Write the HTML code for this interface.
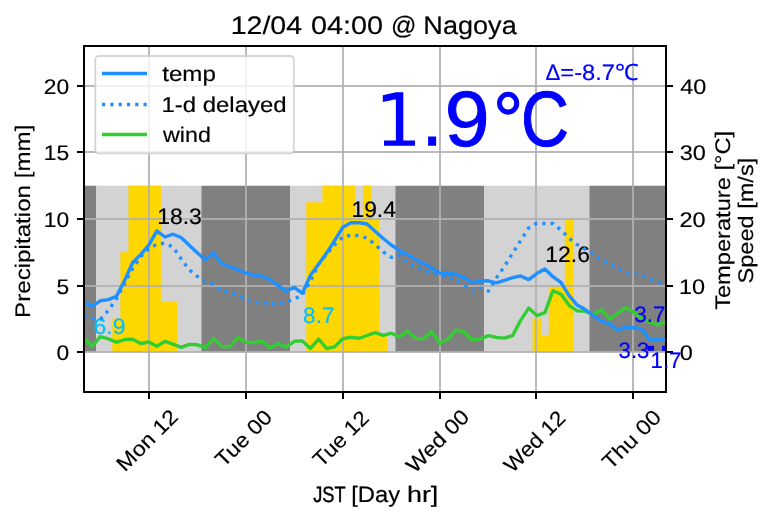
<!DOCTYPE html>
<html><head><meta charset="utf-8"><style>
html,body{margin:0;padding:0;background:#fff;width:773px;height:520px;overflow:hidden}
svg{display:block;font-family:"Liberation Sans",sans-serif;text-rendering:geometricPrecision;will-change:transform}

</style></head><body>
<svg width="773" height="520" viewBox="0 0 773 520">
<defs><clipPath id="ax"><rect x="84" y="46" width="582" height="346"/></clipPath></defs>
<rect x="0" y="0" width="773" height="520" fill="#fff"/>
<g clip-path="url(#ax)">
<rect x="84.15" y="185.75" width="12.12" height="166.25" fill="#808080"/>
<rect x="96.27" y="185.75" width="105.08" height="166.25" fill="#d3d3d3"/>
<rect x="201.36" y="185.75" width="88.92" height="166.25" fill="#808080"/>
<rect x="290.27" y="185.75" width="105.08" height="166.25" fill="#d3d3d3"/>
<rect x="395.36" y="185.75" width="88.92" height="166.25" fill="#808080"/>
<rect x="484.27" y="185.75" width="105.08" height="166.25" fill="#d3d3d3"/>
<rect x="589.36" y="185.75" width="76.64" height="166.25" fill="#808080"/>
<path d="M112.44 352.00H120.52V318.75H112.44ZM120.52 352.00H128.61V252.25H120.52ZM128.61 352.00H136.69V185.75H128.61ZM136.69 352.00H144.77V185.75H136.69ZM144.77 352.00H152.86V185.75H144.77ZM152.86 352.00H160.94V185.75H152.86ZM160.94 352.00H169.02V302.12H160.94ZM169.02 352.00H177.11V302.12H169.02ZM306.44 352.00H314.52V202.38H306.44ZM314.52 352.00H322.61V202.38H314.52ZM322.61 352.00H330.69V185.75H322.61ZM330.69 352.00H338.77V185.75H330.69ZM338.77 352.00H346.86V185.75H338.77ZM346.86 352.00H354.94V185.75H346.86ZM354.94 352.00H363.02V219.00H354.94ZM363.02 352.00H371.11V185.75H363.02ZM371.11 352.00H379.19V219.00H371.11ZM379.19 352.00H387.27V335.38H379.19ZM532.77 352.00H540.86V318.75H532.77ZM540.86 352.00H548.94V335.38H540.86ZM548.94 352.00H557.02V285.50H548.94ZM557.02 352.00H565.11V285.50H557.02ZM565.11 352.00H573.19V219.00H565.11Z" fill="#ffd700" stroke="#ffd700" stroke-width="0.3"/>
<rect x="84" y="85" width="582" height="2" fill="#b0b0b0" fill-opacity="0.88"/>
<rect x="84" y="151" width="582" height="2" fill="#b0b0b0" fill-opacity="0.88"/>
<rect x="84" y="218" width="582" height="2" fill="#b0b0b0" fill-opacity="0.88"/>
<rect x="84" y="285" width="582" height="2" fill="#b0b0b0" fill-opacity="0.88"/>
<rect x="84" y="351" width="582" height="2" fill="#b0b0b0" fill-opacity="0.88"/>
<rect x="148" y="46" width="2" height="346" fill="#b0b0b0" fill-opacity="0.88"/>
<rect x="245" y="46" width="2" height="346" fill="#b0b0b0" fill-opacity="0.88"/>
<rect x="342" y="46" width="2" height="346" fill="#b0b0b0" fill-opacity="0.88"/>
<rect x="439" y="46" width="2" height="346" fill="#b0b0b0" fill-opacity="0.88"/>
<rect x="535" y="46" width="2" height="346" fill="#b0b0b0" fill-opacity="0.88"/>
<rect x="632" y="46" width="2" height="346" fill="#b0b0b0" fill-opacity="0.88"/>
<text transform="translate(157.18,223.50) scale(1.0861,1.0600)" font-size="21.13" fill="#000" stroke="#000" stroke-width="0.18">18.3</text>
<text transform="translate(351.49,217.00) scale(1.0777,1.0600)" font-size="21.13" fill="#000" stroke="#000" stroke-width="0.18">19.4</text>
<text transform="translate(545.28,262.00) scale(1.0861,1.0600)" font-size="21.13" fill="#000" stroke="#000" stroke-width="0.18">12.6</text>
<text transform="translate(93.45,334.00) scale(1.0890,1.0600)" font-size="21.13" fill="#00bfff" stroke="#00bfff" stroke-width="0.18">6.9</text>
<text transform="translate(303.08,322.50) scale(1.0708,1.0600)" font-size="21.13" fill="#00bfff" stroke="#00bfff" stroke-width="0.18">8.7</text>
<polyline points="84.2,315.6 92.2,318.5 100.3,319.3 108.4,310.4 116.5,298.6 124.6,283.4 132.6,268.6 140.7,256.8 148.8,248.8 156.9,244.1 165.0,243.1 173.1,247.1 181.1,258.8 189.2,269.8 197.3,276.4 205.4,281.5 213.5,284.3 221.6,291.0 229.6,292.0 237.7,294.7 245.8,299.7 253.9,302.3 262.0,302.6 270.1,303.4 278.1,304.3 286.2,301.8 294.3,299.3 302.4,294.6 310.5,281.2 318.6,264.1 326.6,254.2 334.7,244.8 342.8,236.9 350.9,235.2 359.0,235.7 367.1,238.2 375.1,244.5 383.2,251.9 391.3,257.3 399.4,254.9 407.5,262.7 415.6,266.8 423.6,270.1 431.7,273.5 439.8,275.4 447.9,277.0 456.0,280.3 464.1,285.2 472.1,290.6 480.2,288.1 488.3,291.1 496.4,278.0 504.5,266.3 512.6,253.2 520.6,240.8 528.7,227.9 536.8,223.3 544.9,223.5 553.0,223.5 561.1,230.2 569.1,238.2 577.2,244.6 585.3,249.5 593.4,254.0 601.5,259.9 609.6,264.2 617.6,268.7 625.7,272.3 633.8,273.7 641.9,275.1 650.0,278.4 658.1,282.0 666.1,285.5" fill="none" stroke="#1e90ff" stroke-width="3.4" stroke-dasharray="3.2 5.1" stroke-linejoin="round"/>
<polyline points="84.2,338.2 92.2,346.3 100.3,336.7 108.4,338.9 116.5,342.3 124.6,339.5 132.6,339.2 140.7,343.5 148.8,342.0 156.9,346.2 165.0,341.3 173.1,344.2 181.1,347.4 189.2,344.4 197.3,344.8 205.4,347.7 213.5,338.3 221.6,346.4 229.6,346.8 237.7,337.6 245.8,342.2 253.9,342.6 262.0,341.1 270.1,347.8 278.1,343.6 286.2,347.0 294.3,341.3 302.4,340.9 310.5,348.4 318.6,339.1 326.6,348.5 334.7,346.8 342.8,338.7 350.9,337.3 359.0,338.3 367.1,335.5 375.1,332.7 383.2,335.4 391.3,333.2 399.4,337.0 407.5,330.6 415.6,338.5 423.6,338.7 431.7,331.5 439.8,343.2 447.9,339.5 456.0,330.1 464.1,332.0 472.1,340.1 480.2,338.9 488.3,335.6 496.4,337.4 504.5,338.1 512.6,335.6 520.6,320.4 528.7,308.1 536.8,315.6 544.9,312.7 553.0,290.7 561.1,294.3 569.1,305.3 577.2,310.9 585.3,311.3 593.4,314.5 601.5,309.6 609.6,319.1 617.6,313.3 625.7,307.7 633.8,312.2 641.9,318.8 650.0,321.9 658.1,324.9 666.1,321.5" fill="none" stroke="#32cd32" stroke-width="3.4" stroke-linejoin="round" stroke-linecap="square"/>
<polyline points="84.2,302.3 92.2,306.2 100.3,300.8 108.4,299.6 116.5,296.2 124.6,280.6 132.6,262.7 140.7,254.6 148.8,245.1 156.9,230.9 165.0,237.0 173.1,234.2 181.1,237.5 189.2,245.2 197.3,252.8 205.4,259.9 213.5,253.1 221.6,263.5 229.6,266.5 237.7,269.6 245.8,273.0 253.9,275.2 262.0,276.2 270.1,279.8 278.1,285.5 286.2,291.2 294.3,287.5 302.4,293.3 310.5,275.2 318.6,264.3 326.6,253.1 334.7,240.5 342.8,227.3 350.9,222.7 359.0,222.7 367.1,224.0 375.1,231.3 383.2,238.5 391.3,245.0 399.4,250.4 407.5,254.6 415.6,259.4 423.6,263.6 431.7,268.0 439.8,272.9 447.9,273.5 456.0,274.1 464.1,277.9 472.1,282.6 480.2,281.0 488.3,280.8 496.4,282.9 504.5,280.4 512.6,277.6 520.6,276.0 528.7,279.6 536.8,273.6 544.9,269.0 553.0,276.7 561.1,282.7 569.1,295.7 577.2,305.1 585.3,309.6 593.4,315.5 601.5,321.5 609.6,323.9 617.6,329.8 625.7,327.1 633.8,327.7 641.9,329.0 650.0,340.3 658.1,339.5 666.1,338.7" fill="none" stroke="#1e90ff" stroke-width="3.4" stroke-linejoin="round" stroke-linecap="square"/>
</g>
<text transform="translate(634.30,321.60) scale(1.0666,1.0600)" font-size="21.13" fill="#0000ff" stroke="#0000ff" stroke-width="0.18">3.7</text>
<text transform="translate(618.62,358.00) scale(1.0444,1.0600)" font-size="21.13" fill="#0000ff" stroke="#0000ff" stroke-width="0.18">3.3</text>
<g clip-path="url(#ax)">
<rect x="647.5" y="345.8" width="6.6" height="5" fill="#0000ff"/><rect x="662" y="345.8" width="4" height="5" fill="#0000ff"/>
</g>
<path d="M384 140.5H415V145.8H384Z M395.9 92.2H403.3V140.5H395.9Z M382.8 95.2L395.9 92.2V99.3L382.8 102.1Z M428.1 136.6H436.1V145.8H428.1Z" fill="#0000ff"/>
<text transform="translate(444.78,145.90) scale(1.0583,1.0300)" font-size="76.00" fill="#0000ff" stroke="#0000ff" stroke-width="1.0">9</text>
<text transform="translate(493.06,146.50) scale(0.9962,1.0300)" font-size="76.00" fill="#0000ff" stroke="#0000ff" stroke-width="1.0">°</text>
<text transform="translate(521.08,145.90) scale(0.8744,1.0300)" font-size="76.00" fill="#0000ff" stroke="#0000ff" stroke-width="1.0">C</text>
<text transform="translate(545.53,80.10) scale(1.0551,1.0600)" font-size="21.13" fill="#0000ff" stroke="#0000ff" stroke-width="0.18">Δ</text>
<text transform="translate(560.32,80.10) scale(1.1200,1.0600)" font-size="21.13" fill="#0000ff" stroke="#0000ff" stroke-width="0.18">=-8.7</text>
<text transform="translate(615.00,80.10) scale(1.1224,1.0600)" font-size="21.13" fill="#0000ff" stroke="#0000ff" stroke-width="0.18">℃</text>
<rect x="95.3" y="56" width="198.5" height="97.3" rx="3.5" ry="3.5" fill="#ffffff" fill-opacity="0.8" stroke="#cccccc" stroke-opacity="0.85" stroke-width="1.8"/>
<line x1="102" x2="147" y1="73.5" y2="73.5" stroke="#1e90ff" stroke-width="3.4"/>
<line x1="102" x2="147" y1="104.5" y2="104.5" stroke="#1e90ff" stroke-width="3.4" stroke-dasharray="3.2 5.1"/>
<line x1="102" x2="147" y1="134.5" y2="134.5" stroke="#32cd32" stroke-width="3.4"/>
<text transform="translate(162.24,80.90) scale(1.1410,1.0000)" font-size="21.13" fill="#000" stroke="#000" stroke-width="0.18">temp</text>
<text transform="translate(161.40,111.90) scale(1.1345,1.0200)" font-size="21.13" fill="#000" stroke="#000" stroke-width="0.18">1-d delayed</text>
<text transform="translate(163.00,141.60) scale(1.1011,1.0000)" font-size="21.13" fill="#000" stroke="#000" stroke-width="0.18">wind</text>
<path d="M83 45H667V393H83Z M85 47V391H665V47Z" fill="#000" fill-rule="evenodd"/>
<rect x="77" y="351" width="6" height="2" fill="#000"/>
<rect x="667" y="351" width="6" height="2" fill="#000"/>
<text transform="translate(56.43,359.50) scale(1.0804,1.0)" font-size="21.13" fill="#000" stroke="#000" stroke-width="0.15">0</text>
<text transform="translate(679.76,359.50) scale(1.1125,1.0)" font-size="21.13" fill="#000" stroke="#000" stroke-width="0.15">0</text>
<rect x="77" y="285" width="6" height="2" fill="#000"/>
<rect x="667" y="285" width="6" height="2" fill="#000"/>
<text transform="translate(56.54,293.50) scale(1.0804,1.0)" font-size="21.13" fill="#000" stroke="#000" stroke-width="0.15">5</text>
<text transform="translate(678.94,293.50) scale(1.1125,1.0)" font-size="21.13" fill="#000" stroke="#000" stroke-width="0.15">10</text>
<rect x="77" y="218" width="6" height="2" fill="#000"/>
<rect x="667" y="218" width="6" height="2" fill="#000"/>
<text transform="translate(43.76,226.50) scale(1.0804,1.0)" font-size="21.13" fill="#000" stroke="#000" stroke-width="0.15">10</text>
<text transform="translate(679.52,226.50) scale(1.1125,1.0)" font-size="21.13" fill="#000" stroke="#000" stroke-width="0.15">20</text>
<rect x="77" y="151" width="6" height="2" fill="#000"/>
<rect x="667" y="151" width="6" height="2" fill="#000"/>
<text transform="translate(43.87,159.50) scale(1.0804,1.0)" font-size="21.13" fill="#000" stroke="#000" stroke-width="0.15">15</text>
<text transform="translate(679.76,159.50) scale(1.1125,1.0)" font-size="21.13" fill="#000" stroke="#000" stroke-width="0.15">30</text>
<rect x="77" y="85" width="6" height="2" fill="#000"/>
<rect x="667" y="85" width="6" height="2" fill="#000"/>
<text transform="translate(43.76,93.50) scale(1.0804,1.0)" font-size="21.13" fill="#000" stroke="#000" stroke-width="0.15">20</text>
<text transform="translate(680.23,93.50) scale(1.1125,1.0)" font-size="21.13" fill="#000" stroke="#000" stroke-width="0.15">40</text>
<rect x="148" y="393" width="2" height="6" fill="#000"/>
<text transform="translate(125.08,472.40) rotate(-45) scale(1.0903,1.0)" font-size="21.13" stroke="#000" stroke-width="0.15">Mon 12</text>
<rect x="245" y="393" width="2" height="6" fill="#000"/>
<text transform="translate(223.84,468.12) rotate(-45) scale(1.0778,1.0)" font-size="21.13" stroke="#000" stroke-width="0.15">Tue 00</text>
<rect x="342" y="393" width="2" height="6" fill="#000"/>
<text transform="translate(321.57,468.12) rotate(-45) scale(1.0582,1.0)" font-size="21.13" stroke="#000" stroke-width="0.15">Tue 12</text>
<rect x="439" y="393" width="2" height="6" fill="#000"/>
<text transform="translate(414.72,473.98) rotate(-45) scale(1.0895,1.0)" font-size="21.13" stroke="#000" stroke-width="0.15">Wed 00</text>
<rect x="535" y="393" width="2" height="6" fill="#000"/>
<text transform="translate(512.53,473.68) rotate(-45) scale(1.0588,1.0)" font-size="21.13" stroke="#000" stroke-width="0.15">Wed 12</text>
<rect x="632" y="393" width="2" height="6" fill="#000"/>
<text transform="translate(610.64,470.43) rotate(-45) scale(1.1178,1.0)" font-size="21.13" stroke="#000" stroke-width="0.15">Thu 00</text>
<text transform="translate(230.66,33.70) scale(1.1256,1.0000)" font-size="25.36" fill="#000" stroke="#000" stroke-width="0.18">12/04</text>
<text transform="translate(310.95,33.70) scale(1.1368,1.0000)" font-size="25.36" fill="#000" stroke="#000" stroke-width="0.18">04:00</text>
<text transform="translate(390.90,33.70) scale(0.9883,1.0000)" font-size="25.36" fill="#000" stroke="#000" stroke-width="0.18">@</text>
<text transform="translate(423.33,33.70) scale(1.0684,1.0000)" font-size="25.36" fill="#000" stroke="#000" stroke-width="0.18">Nagoya</text>
<text transform="translate(313.13,501.60) scale(0.8622,1.0600)" font-size="21.13" fill="#000" stroke="#000" stroke-width="0.43">JST</text>
<text transform="translate(351.14,501.60) scale(1.1253,1.0600)" font-size="21.13" fill="#000" stroke="#000" stroke-width="0.18">[Day</text>
<text transform="translate(406.92,501.60) scale(1.2743,1.0600)" font-size="21.13" fill="#000" stroke="#000" stroke-width="0.18">hr]</text>
<text transform="translate(29.50,317.93) rotate(-90) scale(1.1436,1.0)" font-size="21.13" fill="#000" stroke="#000" stroke-width="0.15">Precipitation [mm]</text>
<text transform="translate(729.70,309.87) rotate(-90) scale(1.1192,1.0)" font-size="21.13" fill="#000" stroke="#000" stroke-width="0.15">Temperature [°C]</text>
<text transform="translate(752.70,283.56) rotate(-90) scale(1.1160,1.0)" font-size="21.13" fill="#000" stroke="#000" stroke-width="0.15">Speed [m/s]</text>
<text transform="translate(650.53,368.20) scale(1.0550,1.0600)" font-size="21.13" fill="#0000ff" stroke="#0000ff" stroke-width="0.18">1.7</text>
</svg>
</body></html>
